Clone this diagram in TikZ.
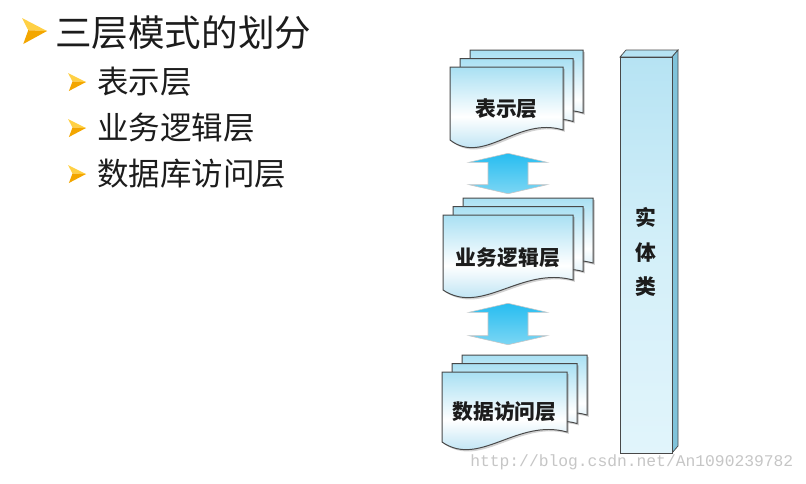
\documentclass[tikz,border=0pt]{standalone}
\usepackage{fontspec}
\setmainfont{Noto Sans CJK SC}
\newfontfamily\markfont{Liberation Mono}
\usetikzlibrary{calc,shadows}

\definecolor{pageTop}{HTML}{A9E0F3}
\definecolor{pageBottom}{HTML}{9DD6EE}
\definecolor{pageLine}{HTML}{484848}
\definecolor{arrowTop}{HTML}{27BDF0}
\definecolor{arrowBottom}{HTML}{7CD6F4}
\definecolor{barSide}{HTML}{80C3DA}
\definecolor{barTop}{HTML}{B6E3F3}
\definecolor{bulletLight}{HTML}{FFD044}
\definecolor{bulletDark}{HTML}{F3A600}
\definecolor{markGray}{HTML}{C6C6C6}
\definecolor{textDark}{HTML}{1C1C1C}

\tikzset{
  page/.style={draw=pageLine,line width=0.7pt,top color=pageTop,bottom color=pageBottom,middle color=white,
    drop shadow={shadow xshift=1.3pt,shadow yshift=-1.3pt,opacity=0.35}},
  pagebox/.style 2 args={minimum width={#1*0.025cm},minimum height={#2*0.025cm},inner sep=0pt,
    font=\bfseries\fontsize{14.8}{17}\selectfont,text=textDark},
  updown/.style={draw=gray!45,line width=0.4pt,top color=arrowTop,bottom color=arrowBottom},
  heading/.style={anchor=west,inner sep=0pt,text=textDark,font=\fontsize{26}{30}\selectfont},
  item/.style={anchor=west,inner sep=0pt,text=textDark,font=\fontsize{22.4}{26}\selectfont},
  pics/tip/.style={code={
    \fill[bulletLight] (0,0) -- (1,0.5) -- (0.25,0.47) -- cycle;
    \fill[bulletDark] (0.25,0.47) -- (1,0.5) -- (0.05,1) -- cycle;
  }},
}

% one sheet with a wavy lower edge: x, y, width, height
\newcommand\docpage[4]{%
  \path[page] ({#1},{#2}) -- ({#1+#3},{#2}) -- ({#1+#3},{#2+#4-10})
    .. controls ({#1+0.6*#3},{#2+#4-24}) and ({#1+0.3*#3},{#2+#4+26}) .. ({#1},{#2+#4}) -- cycle;
}
% three sheets and the named front one: name, x, y, width, height, label
\newcommand\layerstack[6]{%
  \foreach \k in {2,1,0} {\docpage{#2+10*\k}{#3-8.5*\k}{#4}{#5}}
  \node[pagebox={#4}{#5}] (#1) at ({#2+#4/2},{#3+#5/2+5}) {#6};
}
% double arrow from top tip to bottom tip
\newcommand\updown[2]{%
  \path[updown] #1 -- ++(39,9) -- ++(-19,0) -- ($#2+(20,-9)$) -- ++(19,0) -- #2
    -- ++(-39,-9) -- ++(19,0) -- ($#1+(-20,9)$) -- ++(-19,0) -- cycle;
}

\begin{document}
\begin{tikzpicture}[x=0.025cm,y=-0.025cm]
\useasboundingbox[fill=white] (0,0) rectangle (806,483);

% outline on the left
\node[heading] (title) at (55,33) {三层模式的划分};
\node[item] (item1) at (97,82) {表示层};
\node[item] (item2) at (97,128) {业务逻辑层};
\node[item] (item3) at (97,174) {数据库访问层};
\pic[xscale=25,yscale=26] at (22,18) {tip};
\foreach \n in {1,2,3}
  \pic[xscale=18,yscale=18] at ($(item\n.west)+(-29,-9)$) {tip};

% the three layers
\layerstack{pres}{450}{67}{113}{73}{表示层}
\layerstack{biz}{443}{215}{130}{75}{业务逻辑层}
\layerstack{data}{442}{372}{125}{70}{数据访问层}

\updown{($(pres.south)+(1.5,8)$)}{($(biz.north)+(0,-26)$)}
\updown{($(biz.south)+(0,8)$)}{($(data.north)+(3.5,-32)$)}

% entity bar
\fill[barTop,draw=pageLine,line width=0.5pt] (620,57) -- (626,50) -- (678,50) -- (672,57) -- cycle;
\fill[barSide,draw=pageLine,line width=0.5pt] (672,57) -- (678,50) -- (678,446) -- (672,453) -- cycle;
\path[draw=pageLine,line width=0.7pt,top color=barTop,bottom color=white!65!pageTop,middle color=white!50!pageTop]
  (620,57) rectangle (672,453);
\node[align=center,text=textDark,font=\bfseries\fontsize{14.8}{24.5}\selectfont] (entity) at (646,252) {实\\体\\类};

\node[anchor=west,inner sep=0pt,text=markGray,font=\markfont\fontsize{11.6}{13}\selectfont] (mark) at (470,462)
  {http://blog.csdn.net/An1090239782};
\end{tikzpicture}
\end{document}
